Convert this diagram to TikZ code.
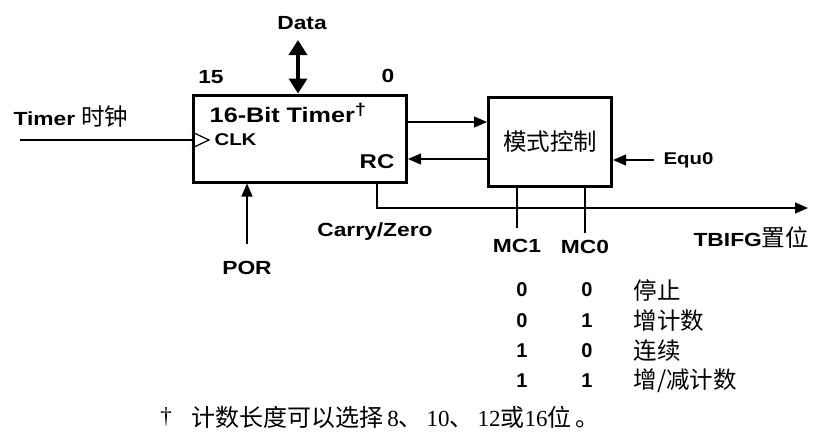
\documentclass[tikz,border=0pt]{standalone}
\usepackage{fontspec}
\setmainfont{Liberation Serif}
\newfontfamily\sansfnt[FakeStretch=1.2]{Liberation Sans}
\newfontfamily\tabfnt{Liberation Sans}
\newfontfamily\cjkfnt{Noto Sans CJK SC}
\newcommand{\tlbl}[1]{{\sansfnt\bfseries\fontsize{19}{22}\selectfont #1}}
\newcommand{\tzh}[1]{{\cjkfnt\fontsize{23.5}{26}\selectfont #1}}
\newcommand{\tnum}[1]{{\tabfnt\bfseries\fontsize{20}{22}\selectfont #1}}
\newcommand{\tnote}[1]{{\cjkfnt\fontsize{24}{26}\selectfont #1}}
\usetikzlibrary{arrows.meta}

\begin{document}
\begin{tikzpicture}[x=1pt, y=-1pt,
    block/.style={draw, line width=3pt, inner sep=0pt},
    sig/.style={line width=1.2pt, -{Triangle[length=13pt, width=11pt]}},
    wire/.style={line width=1.2pt}]
    \useasboundingbox (0,0) rectangle (813,432);
    \node[block, minimum width=213pt, minimum height=87pt] (timer) at (300,138.5) {};
    \node[block, minimum width=123pt, minimum height=89pt] (mode) at (550,141.5) {\tzh{模式控制}};
    \node (timername) at (288,113) {\tlbl{\fontsize{21}{24}\selectfont 16-Bit Timer}\raisebox{7pt}{\tlbl{\fontsize{17}{18}\selectfont †}}};
    \node (data) at (302,23) {\tlbl{Data}};
    \node (b15) at (211,77) {\tlbl{15}};
    \node (b0) at (388,76) {\tlbl{0}};
    \node[anchor=west] (clkname) at (10,117) {\tlbl{Timer}\hspace{6pt}\tzh{时钟}};
    \node[anchor=west] (clk) at (211,140) {\tlbl{\fontsize{17}{20}\selectfont CLK}};
    \node (rc) at (377,162) {\tlbl{\fontsize{20}{22}\selectfont RC}};
    \node (por) at (247,268) {\tlbl{POR}};
    \node (cz) at (375,232) {\tlbl{Carry/Zero}};
    \node[anchor=west] (equ) at (660,160) {\tlbl{\fontsize{17}{20}\selectfont Equ0}};
    \node (mc1) at (517,246) {\tlbl{MC1}};
    \node (mc0) at (585,247) {\tlbl{MC0}};
    \node[anchor=west] (tbifg) at (690,237) {\tlbl{TBIFG}\tzh{置位}};
    \coordinate (dbus) at (298,40);
    \coordinate (clkin) at (20,140);
    \coordinate (czturn) at (377,208);
    \coordinate (tbout) at (808,208);
    \draw[line width=3.5pt, {Triangle[length=15pt, width=18pt]}-{Triangle[length=15pt, width=18pt]}] (dbus) -- (dbus |- timer.north);
    \draw[wire] (clkin) -- (clkin -| timer.west);
    \draw[wire] (timer.west |- 0,132) -- (209,140) -- (timer.west |- 0,148);
    \draw[sig] ([yshift=14pt]por.north) -- (por.north |- timer.south);
    \draw[sig] (timer.east |- 0,122) -- (mode.west |- 0,122);
    \draw[sig] (mode.west |- 0,159) -- (timer.east |- 0,159);
    \draw[sig] ([xshift=-6pt]equ.west) -- (equ.west -| mode.east);
    \draw[wire] (mc1.north |- mode.south) -- ([yshift=8pt]mc1.north);
    \draw[wire] (mc0.north |- mode.south) -- ([yshift=4pt]mc0.north);
    \draw[sig] (czturn |- timer.south) -- (czturn) -- (tbout);
    \node (s1a) at (522,290) {\tnum{0}};
    \node (s1b) at (587,290) {\tnum{0}};
    \node[anchor=west] (s1m) at (630,290) {\tzh{停止}};
    \node (s2a) at (522,321) {\tnum{0}};
    \node (s2b) at (587,321) {\tnum{1}};
    \node[anchor=west] (s2m) at (630,321) {\tzh{增计数}};
    \node (s3a) at (522,351) {\tnum{1}};
    \node (s3b) at (587,351) {\tnum{0}};
    \node[anchor=west] (s3m) at (630,351) {\tzh{连续}};
    \node (s4a) at (522,381) {\tnum{1}};
    \node (s4b) at (587,381) {\tnum{1}};
    \node[anchor=west] (s4m) at (630,381) {\tzh{增/减计数}};
    \node (dag) at (166,417) {\fontsize{23}{25}\selectfont †};
    \node[anchor=west] (note) at (188,417) {\fontsize{23}{25}\selectfont\tnote{计数长度可以选择}\,8\tnote{、}\,10\tnote{、}\,12\tnote{或}16\tnote{位}\,\tnote{。}};
  \end{tikzpicture}
\end{document}
